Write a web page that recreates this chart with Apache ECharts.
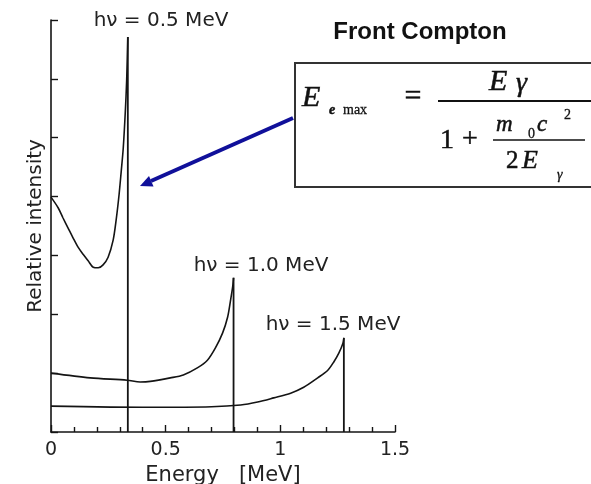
<!DOCTYPE html>
<html>
<head>
<meta charset="utf-8">
<script src="https://cdn.jsdelivr.net/npm/echarts@6/dist/echarts.min.js"></script>
<style>
html,body{margin:0;padding:0;background:#fff;}
#chart{width:591px;height:484px;}
</style>
</head>
<body>
<div id="chart"></div>
<script>
// Energy (MeV) and relative intensity
const c05x = [0, 0.031, 0.052, 0.074, 0.096, 0.118, 0.140, 0.162, 0.184, 0.206, 0.227, 0.249, 0.271, 0.284, 0.297, 0.306, 0.315, 0.324, 0.330, 0.335];
const c05y = [3.99, 3.81, 3.64, 3.47, 3.30, 3.14, 3.02, 2.91, 2.80, 2.79, 2.84, 2.97, 3.26, 3.60, 4.04, 4.42, 4.82, 5.44, 5.98, 6.71];
const c10x = [0, 0.171, 0.332, 0.389, 0.433, 0.520, 0.577, 0.638, 0.682, 0.717, 0.748, 0.770, 0.783, 0.792, 0.796];
const c10y = [1.00, 0.92, 0.88, 0.85, 0.86, 0.92, 0.97, 1.09, 1.22, 1.43, 1.68, 1.95, 2.24, 2.46, 2.62];
const c15x = [0, 0.433, 0.700, 0.827, 0.901, 0.971, 1.045, 1.102, 1.163, 1.207, 1.233, 1.255, 1.273, 1.277];
const c15y = [0.44, 0.42, 0.43, 0.46, 0.51, 0.58, 0.66, 0.76, 0.92, 1.05, 1.19, 1.34, 1.51, 1.60];
const curveLabels = ['hν = 0.5 MeV', 'hν = 1.0 MeV', 'hν = 1.5 MeV'];
const xTickLabels = ['0', '0.5', '1', '1.5'];

const ink = '#141414';
function pairs(xs, ys) { return xs.map((x, i) => [x, ys[i]]); }
function curveSeries(xs, ys) {
  return [
    { type: 'line', data: pairs(xs, ys), smooth: 0.3, symbol: 'none',
      lineStyle: { color: ink, width: 1.6 }, silent: true },
    { type: 'line', data: [[xs[xs.length - 1], ys[ys.length - 1]], [xs[xs.length - 1], 0]],
      symbol: 'none', lineStyle: { color: ink, width: 1.8 }, silent: true }
  ];
}

const chart = echarts.init(document.getElementById('chart'), null, { renderer: 'canvas' });
const serif = '"Liberation Serif", "DejaVu Serif", serif';
const sans = '"DejaVu Sans", sans-serif';
function txt(text, x, y, fs, opts) {
  return { type: 'text', x: x, y: y, style: Object.assign({ text: text, fontSize: fs, fontFamily: serif,
    fontStyle: 'italic', fill: '#111', stroke: '#111', lineWidth: 0.5, align: 'left', verticalAlign: 'middle' }, opts || {}) };
}
function lab(text, x, y) {
  return { type: 'text', x: x, y: y, style: { text: text, fontSize: 20, fontFamily: sans,
    fill: '#222', align: 'center', verticalAlign: 'middle' } };
}

const option = {
  animation: false,
  backgroundColor: '#fff',
  grid: { left: 51, right: 196, top: 20, bottom: 52, containLabel: false, outerBoundsMode: 'none' },
  xAxis: {
    type: 'value', min: 0, max: 1.5, interval: 0.5,
    name: 'Energy   [MeV]', nameLocation: 'middle', nameGap: 30,
    nameTextStyle: { fontSize: 21, color: '#222', fontFamily: sans },
    axisLine: { show: true, onZero: false, lineStyle: { color: ink, width: 1.6 } },
    axisTick: { show: true, inside: true, length: 7, lineStyle: { color: ink, width: 1.4 } },
    minorTick: { show: true, splitNumber: 5, length: 5, lineStyle: { color: ink, width: 1.4 } },
    axisLabel: { fontSize: 19, color: '#222', margin: 9, fontFamily: sans,
      formatter: function (v) { return xTickLabels[Math.round(v / 0.5)]; } },
    splitLine: { show: false }
  },
  yAxis: {
    type: 'value', min: 0, max: 7, interval: 1,
    name: 'Relative intensity', nameLocation: 'middle', nameGap: 5,
    nameTextStyle: { fontSize: 20, color: '#222', fontFamily: sans },
    axisLine: { show: true, lineStyle: { color: ink, width: 1.6 } },
    axisTick: { show: true, inside: true, length: 7, lineStyle: { color: ink, width: 1.4 } },
    axisLabel: { show: false },
    splitLine: { show: false }
  },
  series: [].concat(curveSeries(c05x, c05y), curveSeries(c10x, c10y), curveSeries(c15x, c15y)),
  graphic: [
    lab(curveLabels[0], 161, 21),
    lab(curveLabels[1], 261, 266),
    lab(curveLabels[2], 333, 325),
    { type: 'text', x: 420, y: 32, style: { text: 'Front Compton', fontSize: 24, fontWeight: 'bold',
      fontFamily: '"Liberation Sans", Arial, sans-serif', fill: '#111', align: 'center', verticalAlign: 'middle' } },
    { type: 'rect', shape: { x: 295, y: 63, width: 330, height: 124 }, style: { fill: 'none', stroke: '#333', lineWidth: 2 } },
    txt('E', 302, 98, 30),
    txt('e', 329, 110, 14, { fontWeight: 'bold' }),
    txt('max', 343, 110, 14, { fontStyle: 'normal', lineWidth: 0.3 }),
    txt('=', 413, 97, 30, { fontStyle: 'normal', align: 'center' }),
    txt('E', 489, 82, 30),
    txt('γ', 516, 84, 28),
    { type: 'line', shape: { x1: 438, y1: 101, x2: 600, y2: 101 }, style: { stroke: '#111', lineWidth: 2 } },
    txt('1', 440, 141, 28, { fontStyle: 'normal' }),
    txt('+', 470, 140, 28, { fontStyle: 'normal', align: 'center' }),
    txt('m', 496, 124.5, 23),
    txt('0', 528, 134, 14, { fontStyle: 'normal', lineWidth: 0.3 }),
    txt('c', 537, 124.5, 23),
    txt('2', 564, 115, 14, { fontStyle: 'normal', lineWidth: 0.3 }),
    { type: 'line', shape: { x1: 493, y1: 140, x2: 585, y2: 140 }, style: { stroke: '#111', lineWidth: 1.6 } },
    txt('2', 506, 161.5, 25, { fontStyle: 'normal' }),
    txt('E', 522, 161.5, 26),
    txt('γ', 557, 175, 14, { lineWidth: 0.3 }),
    { type: 'line', shape: { x1: 293, y1: 118, x2: 151, y2: 181 }, style: { stroke: '#10109a', lineWidth: 4 } },
    { type: 'polygon', shape: { points: [[140, 186], [153.5, 186.5], [149, 176]] }, style: { fill: '#10109a' } }
  ]
};
chart.setOption(option);
</script>
</body>
</html>
